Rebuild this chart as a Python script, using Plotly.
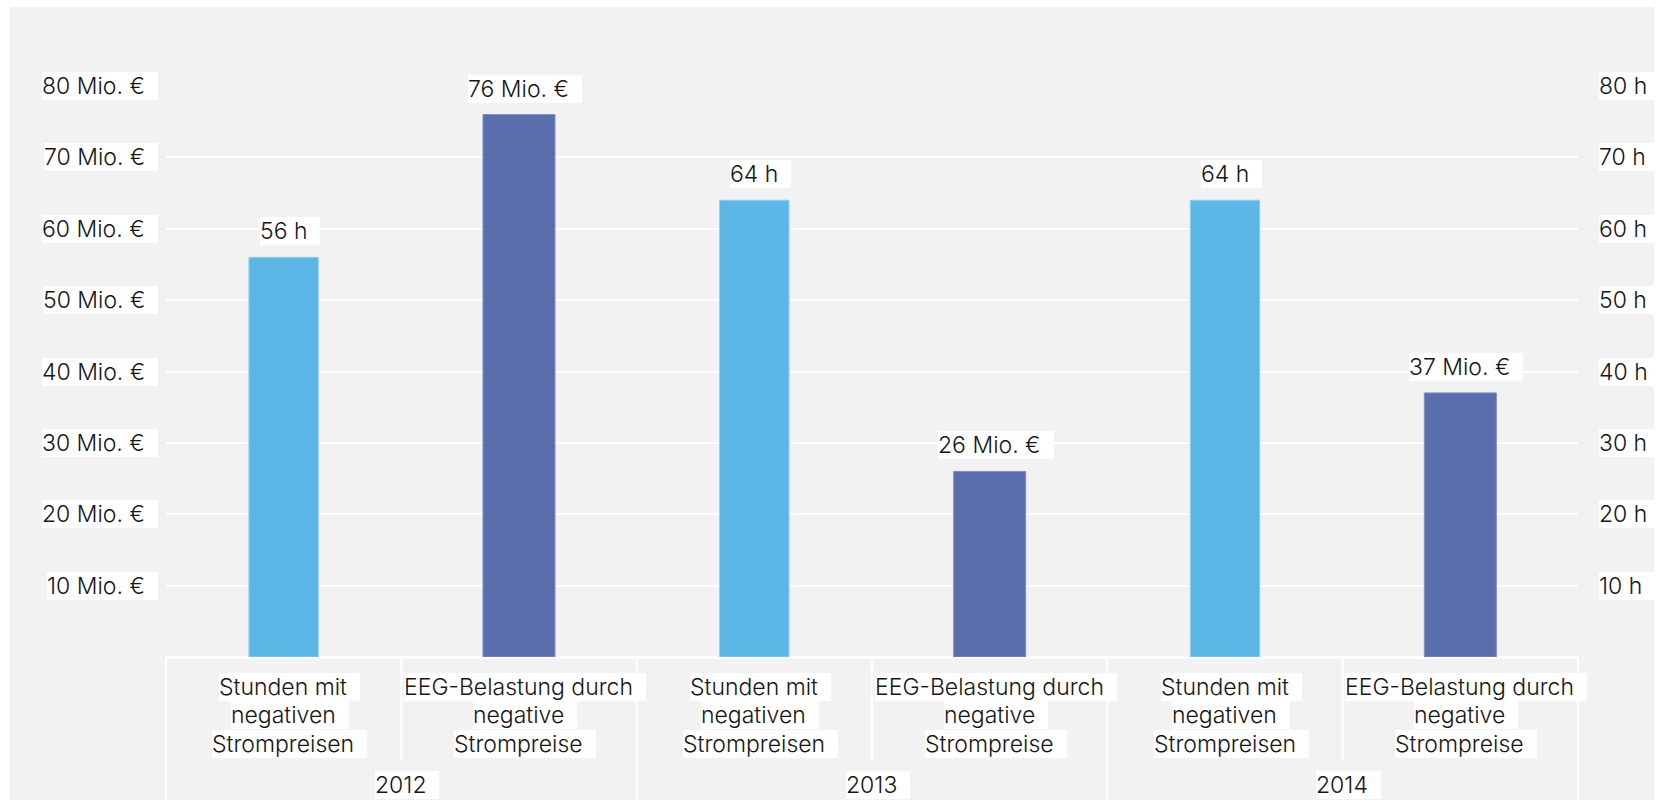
import plotly.graph_objects as go

# --- data -------------------------------------------------------------------
years = ["2012", "2013", "2014"]
metric_lines = {
    "h": ["Stunden mit", "negativen", "Strompreisen"],
    "eur": ["EEG-Belastung durch", "negative", "Strompreise"],
}
hours = [56, 64, 64]              # Stunden mit negativen Strompreisen
cost_mio_eur = [76, 26, 37]       # EEG-Belastung durch negative Strompreise (Mio. €)
tick_values = [10, 20, 30, 40, 50, 60, 70, 80]
left_tick_labels = [f"{v} Mio. €" for v in tick_values]
right_tick_labels = [f"{v} h" for v in tick_values]

# --- layout constants -------------------------------------------------------
W, H = 1661, 800
ML, MR, MT, MB = 166, 83, 86, 143
PW, PH = W - ML - MR, H - MT - MB
FONT = "Inter"
FS = 23
FW = 300
TXT = "#151515"
BG = "#f2f2f2"
PAD = "\u00a0\u00a0"
PAD_SHIFT = 6

LIGHT = "#5bb8e6"
DARK = "#5a6eae"

hour_cats = [f"{y}|h" for y in years]
eur_cats = [f"{y}|eur" for y in years]
categories = [c for y in years for c in (f"{y}|h", f"{y}|eur")]


def px_x(px):
    return (px - ML) / PW


def px_y(px):
    return (H - MB - px) / PH


fig = go.Figure()

fig.add_trace(go.Bar(
    x=hour_cats, y=hours, yaxis="y2", width=0.295,
    marker=dict(color=LIGHT, line=dict(color="#8fd0f0", width=1)),
    name="Stunden", showlegend=False,
))
fig.add_trace(go.Bar(
    x=eur_cats, y=cost_mio_eur, yaxis="y", width=0.306,
    marker=dict(color=DARK, line=dict(color="#7d8ec4", width=1)),
    name="Mio. €", showlegend=False,
))

annotations = []
box = dict(bgcolor="white", borderpad=0, borderwidth=0, showarrow=False,
           font=dict(family=FONT, size=FS, color=TXT, weight=FW))

# y-axis tick labels on both sides
for v, lt, rt in zip(tick_values, left_tick_labels, right_tick_labels):
    annotations.append(dict(box, text=lt + PAD, xref="paper", yref="y", x=0, y=v,
                            xanchor="right", yanchor="middle", xshift=-8))
    annotations.append(dict(box, text=rt + PAD, xref="paper", yref="y2", x=1, y=v,
                            xanchor="left", yanchor="middle", xshift=21))

# value labels above the bars
for c, v in zip(hour_cats, hours):
    annotations.append(dict(box, text=f"{v} h" + PAD, xref="x", yref="y2", x=c, y=v,
                            xanchor="center", yanchor="middle", yshift=26, xshift=PAD_SHIFT))
for c, v in zip(eur_cats, cost_mio_eur):
    annotations.append(dict(box, text=f"{v} Mio. €" + PAD, xref="x", yref="y", x=c, y=v,
                            xanchor="center", yanchor="middle", yshift=26, xshift=PAD_SHIFT))

# two-level category axis: metric names, then years
line_offsets = [-29.5, -58, -86.5]
for c in categories:
    key = c.split("|")[1]
    for text, dy in zip(metric_lines[key], line_offsets):
        annotations.append(dict(box, text=text + PAD, xref="x", yref="paper", x=c, y=0,
                                xanchor="center", yanchor="middle", yshift=dy, xshift=PAD_SHIFT))
for i, y in enumerate(years):
    annotations.append(dict(box, text=y + PAD, xref="x domain", yref="paper",
                            x=(2 * i + 1) / len(categories), y=0,
                            xanchor="center", yanchor="middle", yshift=-128, xshift=PAD_SHIFT))

shapes = [
    # panel background
    dict(type="rect", xref="paper", yref="paper", layer="below",
         x0=px_x(10), x1=px_x(1654), y0=px_y(H), y1=px_y(7),
         fillcolor=BG, line=dict(width=0)),
]
n = len(categories)
for k in range(n + 1):
    bottom = px_y(H) if k % 2 == 0 else px_y(760)
    shapes.append(dict(type="line", xref="x domain", yref="paper",
                       x0=k / n, x1=k / n, y0=0, y1=bottom,
                       line=dict(color="white", width=2)))

fig.update_layout(
    width=W, height=H,
    margin=dict(l=ML, r=MR, t=MT, b=MB, pad=0),
    paper_bgcolor="white", plot_bgcolor=BG,
    barmode="overlay",
    font=dict(family=FONT, size=FS, color=TXT),
    xaxis=dict(type="category", categoryorder="array", categoryarray=categories,
               range=[-0.5, n - 0.5], showticklabels=False, ticks="",
               showgrid=False, showline=True, linecolor="white", linewidth=2,
               zeroline=False),
    yaxis=dict(range=[0, 80], dtick=10, showticklabels=False, ticks="",
               showgrid=True, gridcolor="white", gridwidth=2,
               zeroline=True, zerolinecolor="white", zerolinewidth=2),
    yaxis2=dict(range=[0, 80], overlaying="y", side="right", showticklabels=False,
                ticks="", showgrid=False, zeroline=False),
    annotations=annotations,
    shapes=shapes,
    hovermode=False,
)

fig.write_html("out.html")
